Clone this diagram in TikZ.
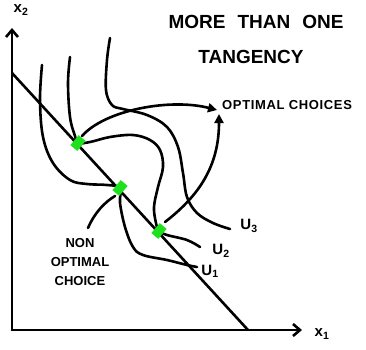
\documentclass[tikz,border=0pt]{standalone}
\usepackage{fontspec}
\setmainfont{Liberation Sans}
\usetikzlibrary{arrows.meta}
\definecolor{dotgreen}{RGB}{30,225,30}
\tikzset{
  pen/.style={line width=2.6pt, line cap=round, line join=round},
  dot/.style={fill=dotgreen, draw=none, rectangle, minimum width=9pt, minimum height=13pt, inner sep=0pt, rotate=-40},
  lbl/.style={font=\bfseries\fontsize{13}{15}\selectfont, inner sep=0pt},
  ttl/.style={font=\bfseries\fontsize{19}{22}\selectfont, inner sep=0pt},
  arr/.style={pen, -{Triangle[length=9pt,width=9pt]}},
}
\begin{document}
\begin{tikzpicture}[x=1pt,y=-1pt]
\useasboundingbox (0,0) rectangle (366,349);
% axes
\coordinate (O) at (12,330);
\coordinate (ytop) at (12,28);
\coordinate (xend) at (302,330);
\draw[pen, -{Straight Barb[length=7pt,width=12pt]}] (O) -- (ytop);
\draw[pen, -{Straight Barb[length=7pt,width=12pt]}] (O) -- (xend);
\node[lbl, font=\bfseries\fontsize{15}{17}\selectfont] (x2) at (21,10) {x\textsubscript{2}};
\node[lbl, font=\bfseries\fontsize{15}{17}\selectfont] (x1) at (322,334) {x\textsubscript{1}};
% budget line
\coordinate (b1) at (12,73);
\coordinate (b2) at (248,330);
\draw[pen] (b1) -- (b2);
% tangency points
\coordinate (p1) at (78,143);
\coordinate (p2) at (120,188);
\coordinate (p3) at (159,231);
% indifference curves
\draw[pen] plot[smooth, tension=0.6] coordinates {(42,65) (40,100) (43,137) (53,163) (70,180) (87,184) (107,185) (p2) (120,203) (125,227) (133,247) (143,255) (167,260) (187,265) (197,267)};
\draw[pen] plot[smooth, tension=0.6] coordinates {(70,57) (68,83) (70,117) (75,136) (p1) (90,142) (110,137) (133,135) (150,140) (160,150) (163,167) (158,187) (154,207) (156,223) (p3) (167,235) (187,240) (200,247)};
\draw[pen] plot[smooth, tension=0.6] coordinates {(110,38) (107,60) (106,90) (112,105) (123,109) (147,115) (167,127) (178,147) (183,173) (187,197) (197,213) (213,223) (230,229)};
% dots
\node[dot] (d1) at (p1) {};
\node[dot] (d2) at (p2) {};
\node[dot] (d3) at (p3) {};
% labels of curves
\node[lbl, font=\bfseries\fontsize{15}{17}\selectfont] (u1) at (210,271) {U\textsubscript{1}};
\node[lbl, font=\bfseries\fontsize{15}{17}\selectfont] (u2) at (221,251) {U\textsubscript{2}};
\node[lbl, font=\bfseries\fontsize{15}{17}\selectfont] (u3) at (249,226) {U\textsubscript{3}};
% title
\node[ttl] (t1) at (256,22) {MORE\hspace{12pt}THAN\hspace{12pt}ONE};
\node[ttl] (t2) at (251,57) {TANGENCY};
% optimal choices
\node[lbl, anchor=west, font=\bfseries\fontsize{13}{15}\selectfont\addfontfeature{LetterSpace=5}] (opt) at (222,105) {OPTIMAL CHOICES};
\coordinate (tipA) at (217,110);
\coordinate (tipB) at (219,114);
\draw[arr] (82,136) .. controls (105,110) and (170,98) .. (tipA);
\draw[arr] (165,222) .. controls (200,195) and (219,165) .. (tipB);
% non optimal choice
\node[lbl, align=center] (non) at (80,262) {NON\\[4pt]OPTIMAL\\[4pt]CHOICE};
\coordinate (nstart) at (88,228);
\draw[pen] (nstart) .. controls (95,212) and (105,202) .. (115,196);
\end{tikzpicture}
\end{document}
